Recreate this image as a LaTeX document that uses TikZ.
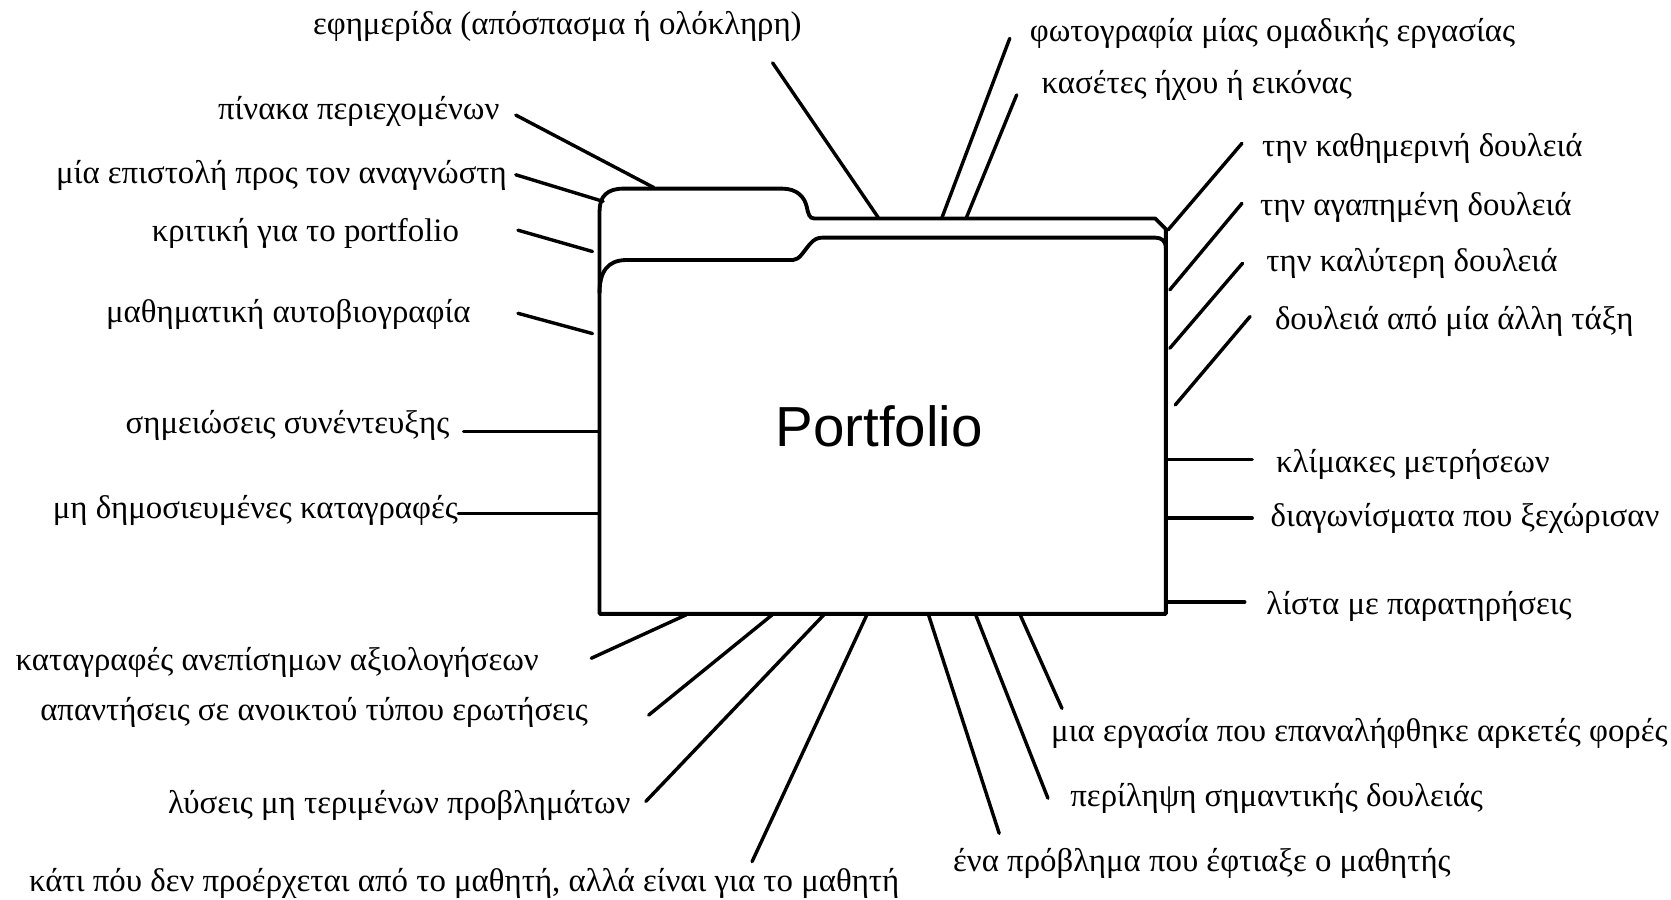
\documentclass[tikz,border=0pt]{standalone}
\usepackage{fontspec}
\setmainfont{Liberation Serif}
\newfontfamily\portfont{Liberation Sans}
\begin{document}
\begin{tikzpicture}[x=0.5pt,y=-0.5pt,
  lbl/.style={font=\fontsize{15.4}{18}\selectfont, inner sep=0pt, text height=0.72em, text depth=0.22em},
  con/.style={line width=1.6pt, line cap=round},
  fold/.style={line width=1.8pt, line join=round}]
\useasboundingbox (0,0) rectangle (1568,844);
\fill[white] (0,0) rectangle (1568,844);

% folder
\draw[fold] (562.6,576) -- (562.6,198) .. controls (562.6,184) and (570,177) .. (585,177) -- (734,177)
  .. controls (748,177) and (755,185) .. (757,194) .. controls (758.5,201) and (759.5,205) .. (764,205)
  -- (1084,205) -- (1094,215) -- (1094,576) -- cycle;
\draw[fold] (562.6,275) .. controls (562.6,255) and (570,244) .. (588,244) -- (744,244)
  .. controls (750,244) and (754,236) .. (760,229) .. controls (764,224.5) and (767,223) .. (772,223)
  -- (1084,223) .. controls (1090,223) and (1094,226) .. (1094,233);
\node[font=\portfont\fontsize{26.5}{30}\selectfont, inner sep=0pt] (pf) at (825,400) {Portfolio};

% labels
\node[lbl,anchor=center] (l1) at (523,27) {εφημερίδα (απόσπασμα ή ολόκληρη)};
\node[lbl,anchor=east] (l2) at (469,107) {πίνακα περιεχομένων};
\node[lbl,anchor=east] (l3) at (476,167) {μία επιστολή προς τον αναγνώστη};
\node[lbl,anchor=east] (l4) at (431,222) {κριτική για το portfolio};
\node[lbl,anchor=east] (l5) at (442,298) {μαθηματική αυτοβιογραφία};
\node[lbl,anchor=east] (l6) at (422,402) {σημειώσεις συνέντευξης};
\node[lbl,anchor=east] (l7) at (430,482) {μη δημοσιευμένες καταγραφές};
\node[lbl,anchor=west] (r1) at (966,34) {φωτογραφία μίας ομαδικής εργασίας};
\node[lbl,anchor=west] (r2) at (977,83) {κασέτες ήχου ή εικόνας};
\node[lbl,anchor=west] (r3) at (1184,142) {την καθημερινή δουλειά};
\node[lbl,anchor=west] (r4) at (1182,197) {την αγαπημένη δουλειά};
\node[lbl,anchor=west] (r5) at (1188,250) {την καλύτερη δουλειά};
\node[lbl,anchor=west] (r6) at (1196,304) {δουλειά από μία άλλη τάξη};
\node[lbl,anchor=west] (r7) at (1197,438) {κλίμακες μετρήσεων};
\node[lbl,anchor=west] (r8) at (1192,489) {διαγωνίσματα που ξεχώρισαν};
\node[lbl,anchor=west] (r9) at (1188,572) {λίστα με παρατηρήσεις};
\node[lbl,anchor=east] (b1) at (506,624) {καταγραφές ανεπίσημων αξιολογήσεων};
\node[lbl,anchor=east] (b2) at (552,671) {απαντήσεις σε ανοικτού τύπου ερωτήσεις};
\node[lbl,anchor=east] (b3) at (592,758) {λύσεις μη τεριμένων προβλημάτων};
\node[lbl,anchor=west] (b4) at (27,832) {κάτι πόυ δεν προέρχεται από το μαθητή, αλλά είναι για το μαθητή};
\node[lbl,anchor=west] (b5) at (986,691) {μια εργασία που επαναλήφθηκε αρκετές φορές};
\node[lbl,anchor=west] (b6) at (1004,752) {περίληψη σημαντικής δουλειάς};
\node[lbl,anchor=west] (b7) at (894,813) {ένα πρόβλημα που έφτιαξε ο μαθητής};

% connector ends
\coordinate (l1s) at (725,59);   \coordinate (l1e) at (824,204);
\coordinate (l2s) at (484,108);  \coordinate (l2e) at (613.5,176);
\coordinate (l3s) at (484,164);  \coordinate (l3e) at (566,189);
\coordinate (l4s) at (486,216);  \coordinate (l4e) at (556,236);
\coordinate (l5s) at (486,294);  \coordinate (l5e) at (556,313);
\coordinate (l6s) at (435,405);  \coordinate (l6e) at (562,405);
\coordinate (l7s) at (430,482);  \coordinate (l7e) at (562,482);
\coordinate (r1s) at (947.5,36); \coordinate (r1e) at (883.6,205);
\coordinate (r2s) at (954,89);   \coordinate (r2e) at (906.5,205);
\coordinate (r3s) at (1165.4,134.5); \coordinate (r3e) at (1096,215.8);
\coordinate (r4s) at (1165.4,190.8); \coordinate (r4e) at (1097.7,272);
\coordinate (r5s) at (1166,247);     \coordinate (r5e) at (1097.7,326.8);
\coordinate (r6s) at (1173,297);     \coordinate (r6e) at (1102.8,380);
\coordinate (r7s) at (1175,431); \coordinate (r7e) at (1094,431);
\coordinate (r8s) at (1175,486); \coordinate (r8e) at (1094,486);
\coordinate (r9s) at (1168,565); \coordinate (r9e) at (1094,565);
\coordinate (b1s) at (554.8,617.7); \coordinate (b1e) at (643.7,577);
\coordinate (b2s) at (608.7,671);   \coordinate (b2e) at (724.5,577);
\coordinate (b3s) at (606,752);     \coordinate (b3e) at (773,577);
\coordinate (b4s) at (705.7,808.5); \coordinate (b4e) at (813.4,577);
\coordinate (b5s) at (996.5,664.7); \coordinate (b5e) at (957.3,577);
\coordinate (b6s) at (983.3,749);   \coordinate (b6e) at (915.6,577);
\coordinate (b7s) at (937.6,782);   \coordinate (b7e) at (871.3,577);

\foreach \n in {l1,l2,l3,l4,l5,l6,l7,r1,r2,r3,r4,r5,r6,r7,r8,r9,b1,b2,b3,b4,b5,b6,b7}
  \draw[con] (\n s) -- (\n e);
\end{tikzpicture}
\end{document}
